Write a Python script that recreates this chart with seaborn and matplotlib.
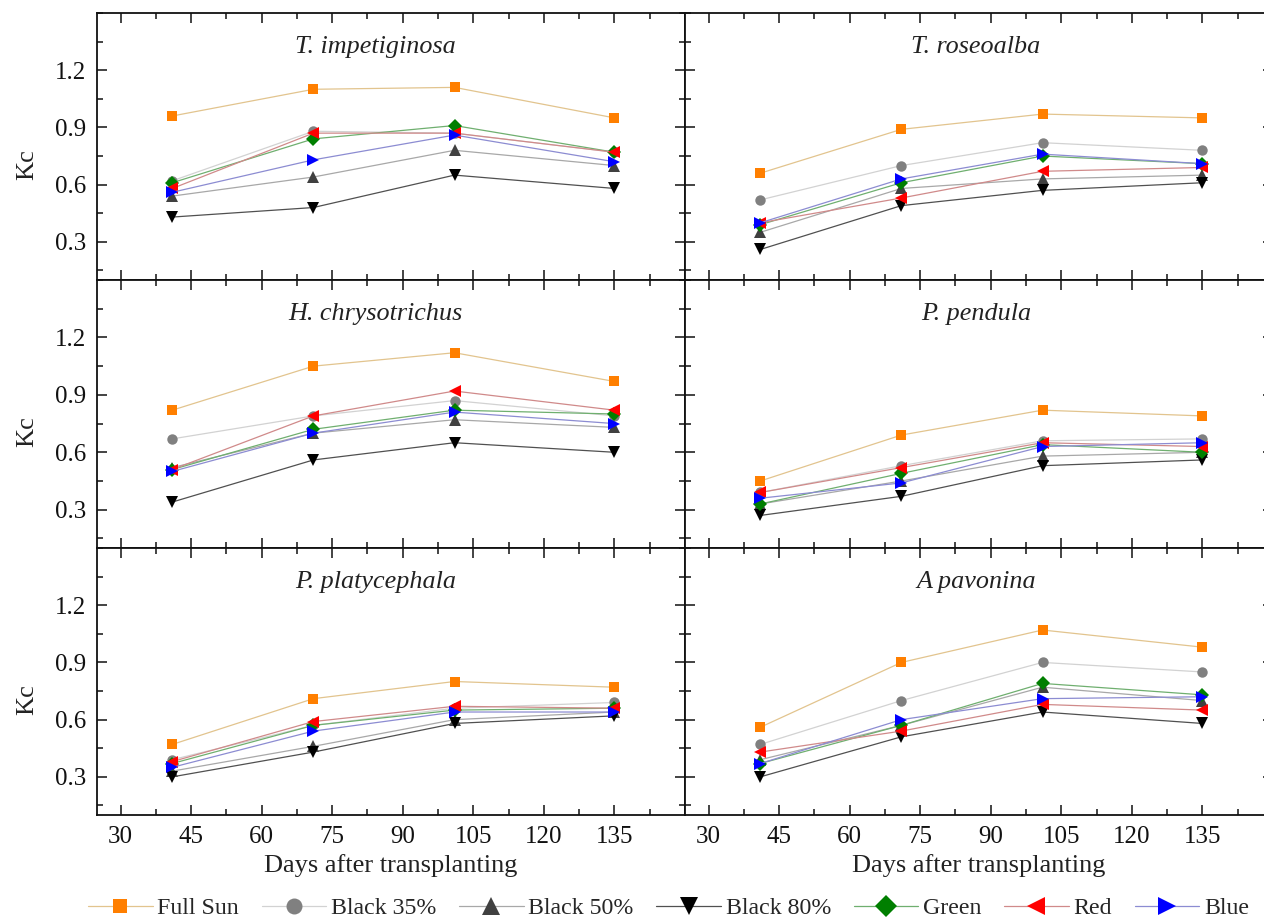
import matplotlib
matplotlib.use("Agg")
import matplotlib.pyplot as plt
import seaborn as sns
import pandas as pd
from matplotlib.ticker import MultipleLocator
from matplotlib.lines import Line2D

# ---------------- data ----------------
days = [41, 71, 101, 135]
treatments = ["Full Sun", "Black 35%", "Black 50%", "Black 80%", "Green", "Red", "Blue"]
species = ["T. impetiginosa", "T. roseoalba", "H. chrysotrichus",
           "P. pendula", "P. platycephala", "A pavonina"]

t_impetiginosa = {
    "Full Sun":  [0.96, 1.10, 1.11, 0.95],
    "Black 35%": [0.62, 0.88, 0.87, 0.77],
    "Black 50%": [0.54, 0.64, 0.78, 0.70],
    "Black 80%": [0.43, 0.48, 0.65, 0.58],
    "Green":     [0.61, 0.84, 0.91, 0.77],
    "Red":       [0.58, 0.87, 0.87, 0.77],
    "Blue":      [0.56, 0.73, 0.86, 0.72],
}
t_roseoalba = {
    "Full Sun":  [0.66, 0.89, 0.97, 0.95],
    "Black 35%": [0.52, 0.70, 0.82, 0.78],
    "Black 50%": [0.35, 0.58, 0.63, 0.65],
    "Black 80%": [0.26, 0.49, 0.57, 0.61],
    "Green":     [0.39, 0.61, 0.75, 0.71],
    "Red":       [0.40, 0.53, 0.67, 0.69],
    "Blue":      [0.40, 0.63, 0.76, 0.71],
}
h_chrysotrichus = {
    "Full Sun":  [0.82, 1.05, 1.12, 0.97],
    "Black 35%": [0.67, 0.79, 0.87, 0.79],
    "Black 50%": [0.52, 0.70, 0.77, 0.73],
    "Black 80%": [0.34, 0.56, 0.65, 0.60],
    "Green":     [0.51, 0.72, 0.82, 0.80],
    "Red":       [0.51, 0.79, 0.92, 0.82],
    "Blue":      [0.50, 0.70, 0.81, 0.75],
}
p_pendula = {
    "Full Sun":  [0.45, 0.69, 0.82, 0.79],
    "Black 35%": [0.39, 0.53, 0.66, 0.67],
    "Black 50%": [0.33, 0.45, 0.58, 0.60],
    "Black 80%": [0.27, 0.37, 0.53, 0.56],
    "Green":     [0.33, 0.49, 0.64, 0.60],
    "Red":       [0.39, 0.52, 0.65, 0.63],
    "Blue":      [0.36, 0.44, 0.63, 0.65],
}
p_platycephala = {
    "Full Sun":  [0.47, 0.71, 0.80, 0.77],
    "Black 35%": [0.39, 0.57, 0.66, 0.69],
    "Black 50%": [0.33, 0.46, 0.60, 0.64],
    "Black 80%": [0.30, 0.43, 0.58, 0.62],
    "Green":     [0.37, 0.57, 0.65, 0.66],
    "Red":       [0.38, 0.59, 0.67, 0.66],
    "Blue":      [0.35, 0.54, 0.64, 0.64],
}
a_pavonina = {
    "Full Sun":  [0.56, 0.90, 1.07, 0.98],
    "Black 35%": [0.47, 0.70, 0.90, 0.85],
    "Black 50%": [0.39, 0.57, 0.77, 0.70],
    "Black 80%": [0.30, 0.51, 0.64, 0.58],
    "Green":     [0.37, 0.57, 0.79, 0.73],
    "Red":       [0.43, 0.54, 0.68, 0.65],
    "Blue":      [0.37, 0.60, 0.71, 0.72],
}
species_data = [t_impetiginosa, t_roseoalba, h_chrysotrichus,
                p_pendula, p_platycephala, a_pavonina]

# ---------------- styles ----------------
marker_colors = ["#FF7F00", "#808080", "#404040", "#000000", "#007F00", "#FF0000", "#0000FF"]
line_colors = ["#E2C48E", "#D2D2D2", "#A8A8A8", "#505050", "#6FAF6F", "#D08A8A", "#8C8CD2"]
markers = ["s", "o", "^", "v", "D", "<", ">"]
msizes = [6.5, 7.5, 8.5, 8.5, 7, 8.5, 8.5]

sns.set_style("ticks")
plt.rcParams["font.family"] = ["Liberation Serif", "DejaVu Serif"]

W, H = 1264, 921
fig = plt.figure(figsize=(W / 100, H / 100), dpi=100)

col_left = [97, 685]
col_w = 588
row_top = [13, 280, 548]
row_h = [267, 268, 267]

title_x = [0.474, 0.495]

axes = []
for i, (name, data) in enumerate(zip(species, species_data)):
    r, c = divmod(i, 2)
    l = col_left[c] / W
    b = 1 - (row_top[r] + row_h[r]) / H
    ax = fig.add_axes([l, b, col_w / W, row_h[r] / H])
    axes.append(ax)
    rows = []
    for t in treatments:
        for d, v in zip(days, data[t]):
            rows.append({"Days": d, "Kc": v, "Treatment": t})
    df = pd.DataFrame(rows)
    for k, t in enumerate(treatments):
        sub = df[df["Treatment"] == t]
        sns.lineplot(data=sub, x="Days", y="Kc", ax=ax, color=line_colors[k],
                     marker=markers[k], markersize=msizes[k],
                     markerfacecolor=marker_colors[k], markeredgecolor=marker_colors[k],
                     markeredgewidth=0, linewidth=0.9, errorbar=None, legend=False)
    ax.set_xlim(25, 150)
    ax.set_ylim(0.1, 1.5)
    ax.xaxis.set_minor_locator(MultipleLocator(7.5))
    ax.yaxis.set_minor_locator(MultipleLocator(0.15))
    ax.set_xticks([30, 45, 60, 75, 90, 105, 120, 135])
    ax.set_yticks([0.3, 0.6, 0.9, 1.2])
    ax.tick_params(which="both", direction="in", top=True, right=True,
                   labelsize=18, width=1.1, colors="#111111")
    ax.tick_params(which="major", length=7, pad=8)
    ax.tick_params(which="minor", length=4)
    for s in ax.spines.values():
        s.set_linewidth(1.3)
        s.set_color("#111111")
    ax.text(title_x[c], 0.873, name, transform=ax.transAxes, ha="center", va="center",
            fontsize=18.8, style="italic", color="#222222")
    if c == 0:
        ax.set_ylabel("Kc", fontsize=19, color="#222222")
        ax.yaxis.set_label_coords(-0.10, 0.434)
    else:
        ax.set_ylabel("")
        ax.tick_params(labelleft=False)
    if r == 2:
        ax.set_xlabel("Days after transplanting", fontsize=19, color="#222222", labelpad=4)
    else:
        ax.set_xlabel("")
        ax.tick_params(labelbottom=False)

handles = [Line2D([], [], color=line_colors[k], marker=markers[k], markersize=msizes[k] + 4,
                  markerfacecolor=marker_colors[k], markeredgecolor=marker_colors[k],
                  markeredgewidth=0, linewidth=0.9) for k in range(len(treatments))]
fig.legend(handles, treatments, loc="center left", bbox_to_anchor=(88 / W, 1 - 908 / H),
           ncol=7, frameon=False, fontsize=17.2, handlelength=2.7, handletextpad=0.2,
           columnspacing=0.95, borderaxespad=0, borderpad=0)

fig.savefig("out.png", dpi=100)
